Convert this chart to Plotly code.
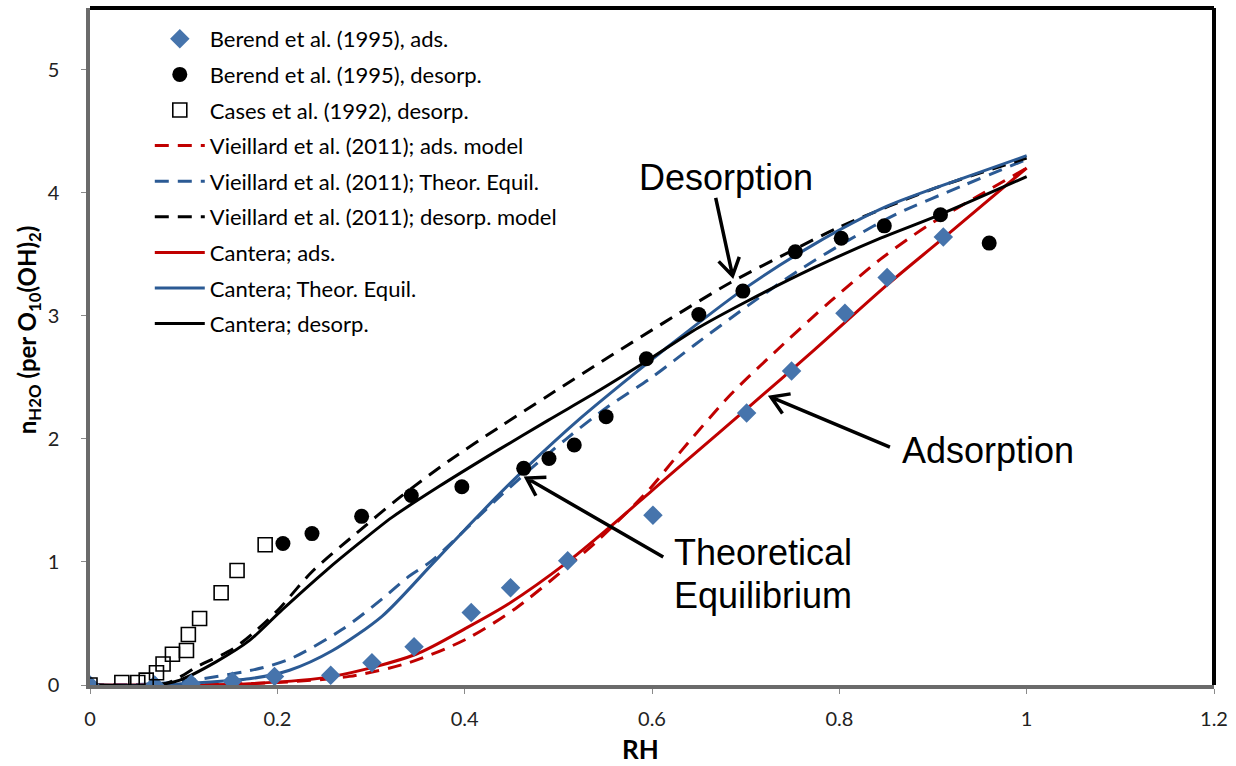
import math
import plotly.graph_objects as go

# Berend et al. (1995) measured points
berend_ads_rh = [0.0, 0.069, 0.108, 0.152, 0.197, 0.257, 0.301, 0.346, 0.407, 0.449, 0.510,
                 0.601, 0.701, 0.749, 0.806, 0.851, 0.911]
berend_ads_n = [0.0, 0.0, 0.01, 0.03, 0.07, 0.08, 0.18, 0.31, 0.59, 0.79, 1.01,
                1.38, 2.21, 2.55, 3.02, 3.31, 3.64]

berend_des_rh = [0.206, 0.237, 0.290, 0.343, 0.397, 0.463, 0.490, 0.517, 0.551, 0.594, 0.650,
                 0.697, 0.753, 0.802, 0.848, 0.908, 0.960]
berend_des_n = [1.15, 1.23, 1.37, 1.54, 1.61, 1.76, 1.84, 1.95, 2.18, 2.65, 3.01,
                3.20, 3.52, 3.63, 3.73, 3.82, 3.59]

# Cases et al. (1992) desorption points
cases_rh = [0.0, 0.034, 0.051, 0.060, 0.071, 0.078, 0.088, 0.103, 0.105, 0.117, 0.140, 0.157, 0.187]
cases_n = [0.0, 0.02, 0.02, 0.04, 0.10, 0.17, 0.25, 0.28, 0.41, 0.54, 0.75, 0.93, 1.14]

# Vieillard et al. (2011) model curves
vie_ads_rh = [0.0, 0.10, 0.20, 0.277, 0.340, 0.401, 0.454, 0.511, 0.543, 0.596, 0.631, 0.684,
              0.739, 0.791, 0.844, 0.894, 0.950, 1.0]
vie_ads_n = [0.0, 0.0, 0.02, 0.07, 0.18, 0.37, 0.62, 0.97, 1.18, 1.58, 1.90, 2.36,
             2.76, 3.12, 3.46, 3.73, 3.98, 4.20]

vie_eq_rh = [0.0, 0.07, 0.12, 0.184, 0.216, 0.269, 0.312, 0.340, 0.365, 0.433, 0.465, 0.507,
             0.551, 0.600, 0.645, 0.702, 0.755, 0.809, 0.862, 0.933, 1.0]
vie_eq_n = [0.0, 0.01, 0.05, 0.14, 0.22, 0.45, 0.70, 0.88, 1.01, 1.50, 1.72, 1.99,
            2.25, 2.50, 2.76, 3.08, 3.36, 3.61, 3.83, 4.06, 4.27]

vie_des_rh = [0.0, 0.08, 0.117, 0.152, 0.177, 0.202, 0.237, 0.284, 0.330, 0.383, 0.436,
              0.489, 0.553, 0.614, 0.684, 0.755, 0.800, 0.900, 1.0]
vie_des_n = [0.0, 0.01, 0.16, 0.29, 0.44, 0.62, 0.92, 1.23, 1.52, 1.82, 2.09,
             2.35, 2.66, 2.95, 3.27, 3.55, 3.72, 4.03, 4.28]

# Cantera model curves
can_ads_rh = [0.0, 0.10, 0.17, 0.259, 0.348, 0.401, 0.447, 0.510, 0.553, 0.600, 0.635, 0.702,
              0.773, 0.851, 0.911, 1.0]
can_ads_n = [0.0, 0.0, 0.01, 0.07, 0.25, 0.46, 0.66, 1.00, 1.27, 1.58, 1.81, 2.25,
             2.72, 3.25, 3.63, 4.20]

can_eq_rh = [0.0, 0.07, 0.12, 0.17, 0.213, 0.259, 0.312, 0.365, 0.400, 0.433, 0.465, 0.524,
             0.578, 0.614, 0.695, 0.773, 0.851, 0.933, 1.0]
can_eq_n = [0.0, 0.0, 0.02, 0.05, 0.12, 0.28, 0.56, 0.98, 1.26, 1.52, 1.76, 2.17,
            2.51, 2.73, 3.20, 3.58, 3.89, 4.12, 4.30]

can_des_rh = [0.0, 0.07, 0.096, 0.135, 0.17, 0.205, 0.252, 0.287, 0.322, 0.372, 0.436, 0.489,
              0.543, 0.596, 0.649, 0.702, 0.773, 0.844, 0.907, 1.0]
can_des_n = [0.0, 0.0, 0.04, 0.19, 0.36, 0.61, 0.93, 1.15, 1.36, 1.61, 1.91, 2.15,
             2.39, 2.64, 2.90, 3.12, 3.39, 3.63, 3.82, 4.13]

x_ticks = [0, 0.2, 0.4, 0.6, 0.8, 1, 1.2]
y_ticks = [0, 1, 2, 3, 4, 5]

RED = "#C00000"
BLUE = "#2B5A94"
DIAMOND = "#4674AC"
DASH = "14px,9px"

W, H = 1236, 766
ML, MR, MT, MB = 90, 18, 8, 81
X_RANGE = [0, 1.2]
Y_RANGE = [0, 5.5]
PX_X = (W - ML - MR) / (X_RANGE[1] - X_RANGE[0])
PX_Y = (H - MT - MB) / (Y_RANGE[1] - Y_RANGE[0])

fig = go.Figure()

line_series = [
    ("Vieillard et al. (2011); ads. model", vie_ads_rh, vie_ads_n, RED, DASH, 4),
    ("Vieillard et al. (2011); Theor. Equil.", vie_eq_rh, vie_eq_n, BLUE, DASH, 5),
    ("Vieillard et al. (2011); desorp. model", vie_des_rh, vie_des_n, "black", DASH, 6),
    ("Cantera; ads.", can_ads_rh, can_ads_n, RED, "solid", 7),
    ("Cantera; Theor. Equil.", can_eq_rh, can_eq_n, BLUE, "solid", 8),
    ("Cantera; desorp.", can_des_rh, can_des_n, "black", "solid", 9),
]
for name, xs, ys, col, dash, rank in line_series:
    fig.add_trace(go.Scatter(
        x=xs, y=ys, mode="lines", name=name, legendrank=rank, legendgroup=name,
        line=dict(color=col, width=3, dash=dash, shape="spline", smoothing=0.8),
    ))

marker_series = [
    ("Berend et al. (1995), ads.", berend_ads_rh, berend_ads_n,
     dict(symbol="diamond", size=15, color=DIAMOND, line=dict(width=0)), 1),
    ("Berend et al. (1995), desorp.", berend_des_rh, berend_des_n,
     dict(symbol="circle", size=15, color="black", line=dict(width=0)), 2),
    ("Cases et al. (1992), desorp.", cases_rh, cases_n,
     dict(symbol="square-open", size=14, color="black", line=dict(width=1.6)), 3),
]
for name, xs, ys, mk, rank in marker_series:
    fig.add_trace(go.Scatter(
        x=xs, y=ys, mode="markers", name=name, legendrank=rank, legendgroup=name,
        marker=mk,
    ))


def arrow_shape(tail, tip, head=20, angle=32):
    """Straight arrow with an open chevron head, in data coordinates."""
    tx, ty = tail[0] * PX_X, -tail[1] * PX_Y
    hx, hy = tip[0] * PX_X, -tip[1] * PX_Y
    dx, dy = hx - tx, hy - ty
    length = math.hypot(dx, dy)
    ux, uy = dx / length, dy / length
    arms = []
    for s in (1, -1):
        a = math.radians(angle) * s
        rx = ux * math.cos(a) - uy * math.sin(a)
        ry = ux * math.sin(a) + uy * math.cos(a)
        arms.append(((hx - head * rx) / PX_X, -(hy - head * ry) / PX_Y))
    path = (f"M{tail[0]},{tail[1]} L{tip[0]},{tip[1]} "
            f"M{arms[0][0]},{arms[0][1]} L{tip[0]},{tip[1]} L{arms[1][0]},{arms[1][1]}")
    return dict(type="path", xref="x", yref="y", path=path,
                line=dict(color="black", width=3.5))


shapes = [
    arrow_shape((0.668, 3.957), (0.686, 3.325)),
    arrow_shape((0.854, 1.933), (0.727, 2.339)),
    arrow_shape((0.612, 1.040), (0.466, 1.681)),
    # heavy frame on the top and right of the plot area
    dict(type="line", xref="paper", yref="paper", x0=0, x1=1, y0=1, y1=1,
         line=dict(color="black", width=4)),
    dict(type="line", xref="paper", yref="paper", x0=1, x1=1, y0=0, y1=1,
         line=dict(color="black", width=4)),
]

label_font = dict(family="Liberation Sans, Arial, sans-serif", size=36, color="black")
annotations = [
    dict(x=0.584, y=4.12, xref="x", yref="y", text="Desorption", showarrow=False,
         xanchor="left", yanchor="middle", font=label_font),
    dict(x=0.865, y=1.905, xref="x", yref="y", text="Adsorption", showarrow=False,
         xanchor="left", yanchor="middle", font=label_font),
    dict(x=0.621, y=1.08, xref="x", yref="y", text="Theoretical", showarrow=False,
         xanchor="left", yanchor="middle", font=label_font),
    dict(x=0.621, y=0.73, xref="x", yref="y", text="Equilibrium", showarrow=False,
         xanchor="left", yanchor="middle", font=label_font),
    dict(x=(642 - ML) / (W - ML - MR), y=-(749 - (H - MB)) / (H - MT - MB),
         xref="paper", yref="paper", text="<b>RH</b>", showarrow=False,
         xanchor="center", yanchor="middle",
         font=dict(family="Lato, sans-serif", size=26, color="black")),
    dict(x=-(ML - 28) / (W - ML - MR), y=(H - MB - 330) / (H - MT - MB),
         xref="paper", yref="paper",
         text="<b>n<sub>H2O</sub> (per O<sub>10</sub>(OH)<sub>2</sub>)</b>",
         showarrow=False, textangle=-90, xanchor="center", yanchor="middle",
         font=dict(family="Lato, sans-serif", size=24, color="black")),
]

tick_font = dict(family="Lato, sans-serif", size=20, color="#222222")
fig.update_layout(
    width=W, height=H,
    margin=dict(l=ML, r=MR, t=MT, b=MB, pad=0),
    paper_bgcolor="white", plot_bgcolor="white",
    showlegend=True,
    legend=dict(
        x=(150 - ML) / (W - ML - MR), y=(H - MB - 18) / (H - MT - MB),
        xanchor="left", yanchor="top",
        font=dict(family="Lato, sans-serif", size=22, color="black"),
        bgcolor="rgba(0,0,0,0)", borderwidth=0,
        traceorder="grouped", tracegroupgap=4, itemwidth=50,
    ),
    xaxis=dict(
        range=X_RANGE, tickvals=x_ticks, ticktext=[f"{v:g}" for v in x_ticks],
        showgrid=False, zeroline=False, showline=True, linecolor="#6b6b6b", linewidth=3.5,
        ticks="outside", ticklen=5, tickcolor="#8a8a8a", tickwidth=1,
        tickfont=tick_font, ticklabelstandoff=8,
    ),
    yaxis=dict(
        range=Y_RANGE, tickvals=y_ticks, ticktext=[str(v) for v in y_ticks],
        showgrid=False, zeroline=False, showline=True, linecolor="#6b6b6b", linewidth=3.5,
        ticks="outside", ticklen=5, tickcolor="#8a8a8a", tickwidth=1,
        tickfont=tick_font, ticklabelstandoff=18,
    ),
    shapes=shapes,
    annotations=annotations,
)

fig.write_html("out.html")
